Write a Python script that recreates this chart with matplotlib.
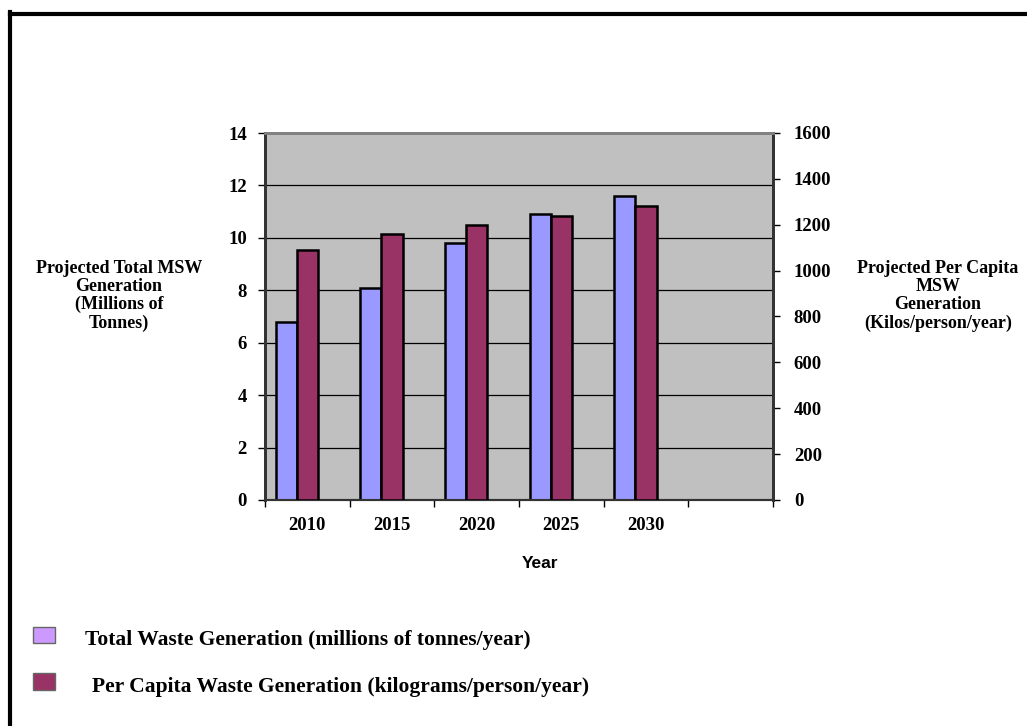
import matplotlib.pyplot as plt
from matplotlib.lines import Line2D
from matplotlib.patches import Rectangle
import numpy as np

# data
years = ['2010', '2015', '2020', '2025', '2030', '']
total_msw = [6.8, 8.1, 9.8, 10.9, 11.6]            # millions of tonnes
per_capita = [1090, 1160, 1200, 1240, 1280]         # kg/person/year
left_ticks = [0, 2, 4, 6, 8, 10, 12, 14]
right_ticks = [0, 200, 400, 600, 800, 1000, 1200, 1400, 1600]

W, H = 1027, 726
fig = plt.figure(figsize=(W / 100, H / 100), dpi=100)
fig.patch.set_facecolor('white')

serif = 'Liberation Serif'
sans = 'Liberation Sans'
fs = 13.5

def px(x0, y0, x1, y1):
	return [x0 / W, 1 - y1 / H, (x1 - x0) / W, (y1 - y0) / H]

ax = fig.add_axes(px(265, 133, 773, 500))
ax.set_facecolor('#C0C0C0')
ax.set_xlim(-0.5, len(years) - 0.5)
ax.set_ylim(0, 14)
ax.set_axisbelow(True)

x = np.arange(len(total_msw))
bw = 0.25
ax.bar(x - 0.25, total_msw, width=bw, color='#9999FF', edgecolor='black', linewidth=1.8, zorder=3)

for g in left_ticks[1:-1]:
	ax.axhline(g, color='black', linewidth=0.9, zorder=1)

ax2 = ax.twinx()
ax2.set_ylim(0, 1600)
ax2.bar(x, per_capita, width=bw, color='#993366', edgecolor='black', linewidth=1.8, zorder=3)

# ticks
ax.set_yticks(left_ticks)
ax.set_yticklabels([str(t) for t in left_ticks], fontfamily=serif, fontweight='bold', fontsize=fs)
ax2.set_yticks(right_ticks)
ax2.set_yticklabels([str(t) for t in right_ticks], fontfamily=serif, fontweight='bold', fontsize=fs)
ax.tick_params(axis='y', direction='out', length=5, width=1, pad=8)
ax2.tick_params(axis='y', direction='out', length=5, width=1, pad=10)

ax.set_xticks(np.arange(len(years) + 1) - 0.5, minor=False)
ax.set_xticklabels([])
ax.tick_params(axis='x', direction='out', length=5, width=1)
for i, lab in enumerate(years):
	ax.text(i, -0.045, lab, transform=ax.get_xaxis_transform(), ha='center', va='top',
		fontfamily=serif, fontweight='bold', fontsize=fs)

for a in (ax, ax2):
	a.spines['top'].set_color('#808080')
	a.spines['top'].set_linewidth(2)
	a.spines['left'].set_color('#333333')
	a.spines['left'].set_linewidth(2)
	a.spines['right'].set_color('#333333')
	a.spines['right'].set_linewidth(2)
	a.spines['bottom'].set_color('#333333')
	a.spines['bottom'].set_linewidth(1.5)

# axis titles
fig.text(119 / W, 1 - 296 / H, 'Projected Total MSW\nGeneration\n(Millions of\nTonnes)',
	ha='center', va='center', fontfamily=serif, fontweight='bold', fontsize=13, linespacing=1.07)
fig.text(938 / W, 1 - 296 / H, 'Projected Per Capita\nMSW\nGeneration\n(Kilos/person/year)',
	ha='center', va='center', fontfamily=serif, fontweight='bold', fontsize=13, linespacing=1.07)
fig.text(540 / W, 1 - 564 / H, 'Year', ha='center', va='center',
	fontfamily=sans, fontweight='bold', fontsize=12.5)

# legend drawn by hand
fig.patches.append(Rectangle((33 / W, 1 - 643 / H), 22 / W, 16 / H, transform=fig.transFigure,
	facecolor='#CC99FF', edgecolor='#666666', linewidth=1))
fig.patches.append(Rectangle((33 / W, 1 - 690 / H), 22 / W, 17 / H, transform=fig.transFigure,
	facecolor='#993366', edgecolor='#666666', linewidth=1))
fig.text(85 / W, 1 - 640 / H, 'Total Waste Generation (millions of tonnes/year)', ha='left', va='center',
	fontfamily=serif, fontweight='bold', fontsize=15.5)
fig.text(92 / W, 1 - 687 / H, 'Per Capita Waste Generation (kilograms/person/year)', ha='left', va='center',
	fontfamily=serif, fontweight='bold', fontsize=15.5)

# border on top and left of the frame
fig.lines.append(Line2D([10 / W, 1], [1 - 14 / H, 1 - 14 / H], transform=fig.transFigure, color='black', linewidth=3))
fig.lines.append(Line2D([10 / W, 10 / W], [1 - 12 / H, 0], transform=fig.transFigure, color='black', linewidth=3))

fig.savefig('out.png', dpi=100)
